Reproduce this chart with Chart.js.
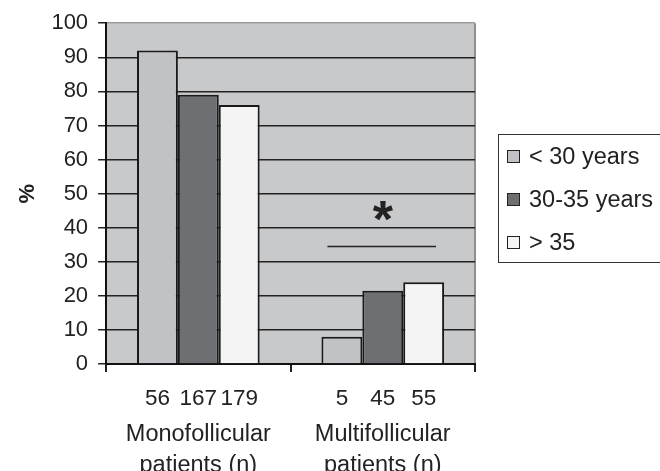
<!DOCTYPE html>
<html>
<head>
<meta charset="utf-8">
<script src="https://cdn.jsdelivr.net/npm/chart.js@4.4.1/dist/chart.umd.min.js"></script>
<style>
  body { margin: 0; background: #fff; }
  #wrap { position: relative; width: 660px; height: 471px; overflow: hidden; }
  #legend {
    position: absolute; left: 498px; top: 134px; width: 185px; height: 129px;
    border: 1.5px solid #333; box-sizing: border-box;
    font: 23.5px "Liberation Sans", Arial, sans-serif; color: #222;
  }
  #legend .row { height: 43px; display: flex; align-items: center; padding-left: 8px; }
  #legend .sw { width: 11px; height: 11px; border: 1.5px solid #222; margin-right: 9px; }
</style>
</head>
<body>
<div id="wrap">
  <canvas id="myChart" width="660" height="471"></canvas>
  <div id="legend"></div>
</div>
<script>
const categories = [['Monofollicular', 'patients (n)'], ['Multifollicular', 'patients (n)']];
const seriesNames = ['< 30 years', '30-35 years', '> 35'];
const under30 = [92, 8];
const from30to35 = [79, 21.5];
const over35 = [76, 24];
// patient counts shown under each bar
const nUnder30 = [56, 5];
const n30to35 = [167, 45];
const nOver35 = [179, 55];
const yTicks = [0, 10, 20, 30, 40, 50, 60, 70, 80, 90, 100];
const sigLineValue = 34.5;
const sigStarValue = 37.4;

const colors = ['#c1c2c6', '#6e6f73', '#f4f4f4'];
const nCounts = [nUnder30, n30to35, nOver35];
const fontFam = '"Liberation Sans", Arial, sans-serif';
Chart.defaults.font.family = fontFam;

const plotBg = {
  id: 'plotBg',
  beforeDraw(chart) {
    const { ctx, chartArea: a } = chart;
    ctx.save();
    ctx.fillStyle = '#c8c9cb';
    ctx.fillRect(a.left, a.top, a.right - a.left, a.bottom - a.top);
    ctx.strokeStyle = '#8f8f8f';
    ctx.lineWidth = 2;
    ctx.beginPath();
    ctx.moveTo(a.right, a.top);
    ctx.lineTo(a.right, a.bottom);
    ctx.stroke();
    ctx.restore();
  }
};

const extras = {
  id: 'extras',
  afterDraw(chart) {
    const ctx = chart.ctx;
    const yScale = chart.scales.y;
    const a = chart.chartArea;
    ctx.save();
    ctx.fillStyle = '#222';
    ctx.font = '22.5px ' + fontFam;
    ctx.textAlign = 'center';
    ctx.textBaseline = 'middle';
    nCounts.forEach((arr, di) => {
      chart.getDatasetMeta(di).data.forEach((bar, i) => {
        ctx.fillText(String(arr[i]), bar.x, a.bottom + 35);
      });
    });
    // significance marker over multifollicular group
    const b0 = chart.getDatasetMeta(0).data[1];
    const b2 = chart.getDatasetMeta(2).data[1];
    const ly = yScale.getPixelForValue(sigLineValue);
    ctx.strokeStyle = '#222';
    ctx.lineWidth = 1.5;
    ctx.beginPath();
    ctx.moveTo(b0.x - b0.width / 2 + 6, ly);
    ctx.lineTo(b2.x + b2.width / 2 - 8, ly);
    ctx.stroke();
    ctx.font = 'bold 52px ' + fontFam;
    ctx.textBaseline = 'alphabetic';
    ctx.fillText('*', (b0.x + b2.x) / 2, yScale.getPixelForValue(sigStarValue));
    ctx.restore();
  }
};

new Chart(document.getElementById('myChart'), {
  type: 'bar',
  data: {
    labels: categories,
    datasets: [under30, from30to35, over35].map((d, i) => ({
      label: seriesNames[i],
      data: d,
      backgroundColor: colors[i],
      borderColor: '#1a1a1a',
      borderWidth: 2,
      borderSkipped: 'bottom',
      categoryPercentage: 0.665,
      barPercentage: 1
    }))
  },
  options: {
    responsive: false,
    animation: false,
    layout: { padding: { top: 14, right: 185, bottom: 0, left: 0 } },
    plugins: { legend: { display: false }, tooltip: { enabled: false } },
    scales: {
      x: {
        grid: { drawOnChartArea: false, drawTicks: true, tickLength: 8, tickColor: '#222', lineWidth: 2, offset: true },
        border: { color: '#111', width: 2 },
        ticks: { font: { size: 23.5, lineHeight: 1.32 }, color: '#222', padding: 47, maxRotation: 0 },
        afterFit: s => { s.height = 107; }
      },
      y: {
        min: 0, max: 100,
        afterBuildTicks: s => { s.ticks = yTicks.map(v => ({ value: v })); },
        ticks: { font: { size: 22 }, color: '#222', padding: 10 },
        grid: {
          color: c => (c.tick && c.tick.value === 100 ? '#9a9a9a' : '#222'),
          lineWidth: 1.5, tickLength: 8, tickColor: '#222'
        },
        border: { color: '#111', width: 2 },
        title: { display: true, text: '%', color: '#222', font: { size: 22, weight: 'bold' }, padding: { top: 15, bottom: 0 } }
      }
    }
  },
  plugins: [plotBg, extras]
});

// legend box built from the series names and colours
const lg = document.getElementById('legend');
seriesNames.forEach((name, i) => {
  const row = document.createElement('div');
  row.className = 'row';
  const sw = document.createElement('span');
  sw.className = 'sw';
  sw.style.background = colors[i];
  row.appendChild(sw);
  row.appendChild(document.createTextNode(name));
  lg.appendChild(row);
});
</script>
</body>
</html>
